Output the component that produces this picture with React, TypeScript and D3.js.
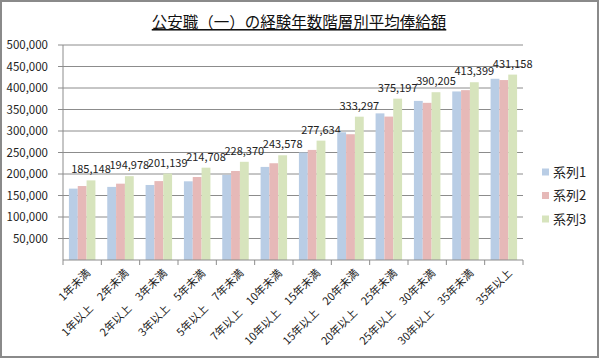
import * as React from 'react';
import * as d3 from 'd3';

const categories: string[] = [
	'1年未満',
	'1年以上　2年未満',
	'2年以上　3年未満',
	'3年以上　5年未満',
	'5年以上　7年未満',
	'7年以上　10年未満',
	'10年以上　15年未満',
	'15年以上　20年未満',
	'20年以上　25年未満',
	'25年以上　30年未満',
	'30年以上　35年未満',
	'35年以上'
];

const series1: number[] = [166000, 170000, 174500, 183000, 198000, 216500, 250000, 297000, 341000, 370000, 392000, 421500];
const series2: number[] = [172000, 177500, 183500, 193000, 207000, 225000, 256000, 292500, 333500, 365500, 395000, 418500];
const series3: number[] = [185148, 194978, 201139, 214708, 228370, 243578, 277634, 333297, 375197, 390205, 413399, 431158];

const seriesNames: string[] = ['系列1', '系列2', '系列3'];
const colors: string[] = ['#b9cde5', '#e6b9b8', '#d7e4bd'];
const yTicks: number[] = [50000, 100000, 150000, 200000, 250000, 300000, 350000, 400000, 450000, 500000];

const title = '公安職（一）の経験年数階層別平均俸給額';
const font = '"Noto Sans CJK JP", "Noto Sans", sans-serif';

const App = () => {
	const margin = { top: 45, left: 63, right: 523, bottom: 260 };
	const allSeries = [series1, series2, series3];

	const x = d3.scaleBand().domain(categories).range([margin.left, margin.right]);
	const xs = d3
		.scaleBand()
		.domain(seriesNames)
		.range([0, x.bandwidth()])
		.paddingInner(0)
		.paddingOuter(0.67);
	const y = d3.scaleLinear().domain([0, 500000]).range([margin.bottom, margin.top]);
	const fmt = d3.format(',');

	return (
		<svg width={600} height={359} style={{ position: 'absolute', left: 0, top: 0 }} fontFamily={font}>
			<rect x={0} y={0} width={600} height={359} fill="#fff" />
			<rect x={1} y={1} width={597} height={356} fill="none" stroke="#8a8a8a" strokeWidth={2} />

			<text x={299} y={28} textAnchor="middle" fontSize={15.5} fill="#111" textDecoration="underline">
				{title}
			</text>

			{/* gridlines + y axis */}
			{yTicks.map((t) => (
				<g key={t}>
					<line x1={margin.left - 5} x2={margin.right} y1={y(t)} y2={y(t)} stroke="#8c8c8c" strokeWidth={1} />
					<text x={48} y={y(t)} dy="0.35em" textAnchor="end" fontSize={11.5} fill="#222">
						{fmt(t)}
					</text>
				</g>
			))}
			<line x1={margin.left} x2={margin.left} y1={margin.top} y2={margin.bottom} stroke="#8c8c8c" />

			{/* bars */}
			{categories.map((c, i) => (
				<g key={c} transform={`translate(${x(c)},0)`}>
					{allSeries.map((s, j) => (
						<rect
							key={j}
							x={xs(seriesNames[j])}
							y={y(s[i])}
							width={xs.bandwidth()}
							height={y(0) - y(s[i])}
							fill={colors[j]}
						/>
					))}
					<text
						x={(xs(seriesNames[2]) || 0) + xs.bandwidth() / 2}
						y={y(series3[i]) - 7}
						textAnchor="middle"
						fontSize={11}
						fill="#222"
					>
						{fmt(series3[i])}
					</text>
				</g>
			))}

			{/* x axis */}
			<line x1={margin.left} x2={margin.right} y1={margin.bottom} y2={margin.bottom} stroke="#8c8c8c" />
			{d3.range(categories.length + 1).map((k) => {
				const px = margin.left + k * x.step();
				return <line key={k} x1={px} x2={px} y1={margin.bottom} y2={margin.bottom + 5} stroke="#8c8c8c" />;
			})}
			{categories.map((c) => {
				const cx = (x(c) || 0) + x.bandwidth() / 2 + 3;
				const cy = 268;
				return (
					<text
						key={c}
						x={cx}
						y={cy}
						transform={`rotate(-45,${cx},${cy})`}
						textAnchor="end"
						dy="0.75em"
						fontSize={11}
						fill="#222"
					>
						{c}
					</text>
				);
			})}

			{/* legend */}
			{seriesNames.map((n, j) => (
				<g key={n} transform={`translate(542,${172 + j * 23.5})`}>
					<rect x={0} y={-3.5} width={7} height={7} fill={colors[j]} />
					<text x={11} y={0} dy="0.35em" fontSize={13} fill="#222">
						{n}
					</text>
				</g>
			))}
		</svg>
	);
};

export default App;
